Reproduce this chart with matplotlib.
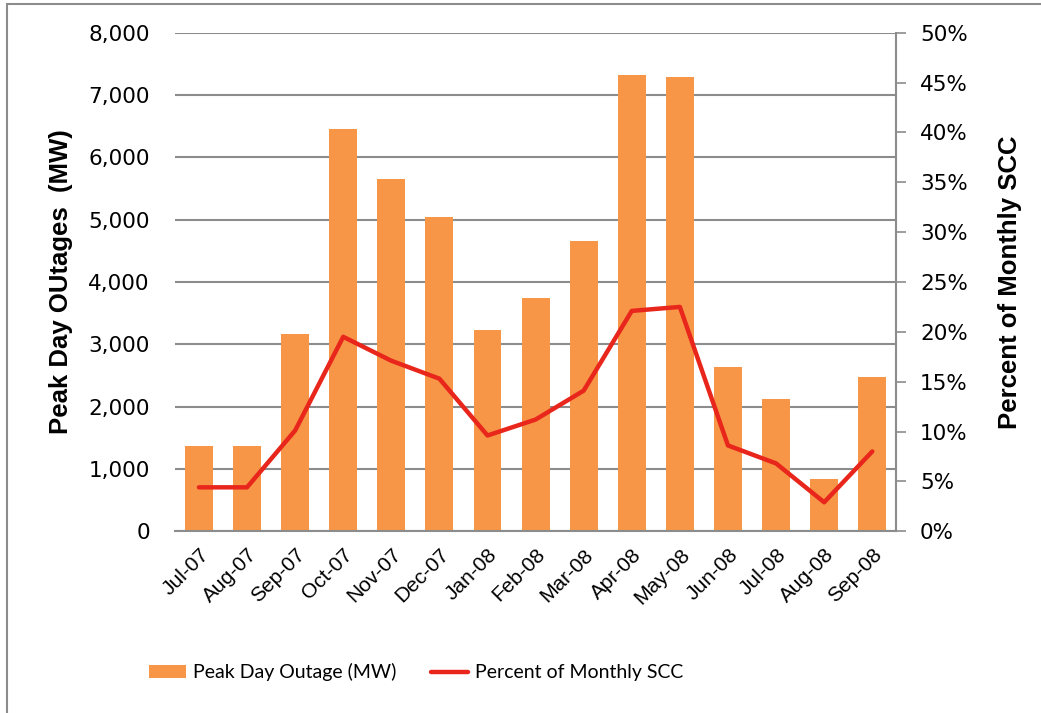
import matplotlib
matplotlib.use('Agg')

import matplotlib.pyplot as plt
from matplotlib.patches import Rectangle
from matplotlib.ticker import FuncFormatter

months = ['Jul-07', 'Aug-07', 'Sep-07', 'Oct-07', 'Nov-07', 'Dec-07', 'Jan-08',
          'Feb-08', 'Mar-08', 'Apr-08', 'May-08', 'Jun-08', 'Jul-08', 'Aug-08', 'Sep-08']
outage_mw = [1370, 1370, 3160, 6450, 5650, 5050, 3230, 3740, 4660, 7320, 7290,
             2640, 2120, 840, 2470]
pct_scc = [4.4, 4.4, 10.1, 19.5, 17.1, 15.3, 9.6, 11.2, 14.1, 22.1, 22.5,
           8.6, 6.8, 2.9, 8.0]

orange = '#F79646'
red = '#E8261C'
grid_gray = '#8C8C8C'

fig = plt.figure(figsize=(10.41, 7.13), dpi=100)
ax = fig.add_axes([0.168, 0.255, 0.693, 0.699])
ax2 = ax.twinx()

x = list(range(len(months)))
bars = ax.bar(x, outage_mw, width=0.58, color=orange, zorder=2,
              label='Peak Day Outage (MW)')
line, = ax2.plot(x, pct_scc, color=red, lw=3.2, solid_capstyle='round',
                 solid_joinstyle='round', label='Percent of Monthly SCC')

ax.set_xlim(-0.5, len(months) - 0.5)
ax.set_ylim(0, 8000)
ax.set_yticks(range(0, 8001, 1000))
ax.yaxis.set_major_formatter(FuncFormatter(lambda v, p: f'{int(v):,}'))
ax.grid(axis='y', color=grid_gray, lw=1.5, zorder=0)
ax.set_axisbelow(True)

ax2.set_ylim(0, 50)
ax2.set_yticks(range(0, 51, 5))
ax2.yaxis.set_major_formatter(FuncFormatter(lambda v, p: f'{int(v)}%'))

for a in (ax, ax2):
    for s in ('top', 'left'):
        a.spines[s].set_visible(False)
ax.spines['right'].set_visible(False)
ax2.spines['bottom'].set_visible(False)
ax.spines['bottom'].set_color(grid_gray)
ax.spines['bottom'].set_linewidth(1.5)
ax2.spines['right'].set_color(grid_gray)
ax2.spines['right'].set_linewidth(1.5)

ax.tick_params(axis='y', length=0, pad=18, labelsize=15.5, labelcolor='black')
ax.tick_params(axis='x', length=0, pad=10)
ax2.tick_params(axis='y', length=7, width=1.2, color=grid_gray, pad=10,
                labelsize=15.5)
for t in ax.get_yticklabels() + ax2.get_yticklabels():
    t.set_fontfamily('DejaVu Sans')

ax.set_xticks(x)
ax.set_xticklabels(months, rotation=45, ha='right', rotation_mode='anchor',
                   fontsize=15, fontfamily='Liberation Sans')

ax.set_ylabel('Peak Day OUtages  (MW)', fontsize=18.5, fontweight='bold',
              fontfamily='Liberation Sans', labelpad=11)
ax2.set_ylabel('Percent of Monthly SCC', fontsize=18.5, fontweight='bold',
               fontfamily='Liberation Sans', labelpad=22)

fig.legend(handles=[bars, line], loc='center', bbox_to_anchor=(0.40, 0.057),
           ncol=2, frameon=False, prop={'family': 'Lato', 'size': 14},
           columnspacing=1.8, handlelength=1.9, handletextpad=0.35)

fig.patches.append(Rectangle((0.007, -0.01), 0.995, 1.004, transform=fig.transFigure,
                             fill=False, edgecolor='#8C8C8C', lw=1.5))

fig.savefig('out.png', dpi=100)
